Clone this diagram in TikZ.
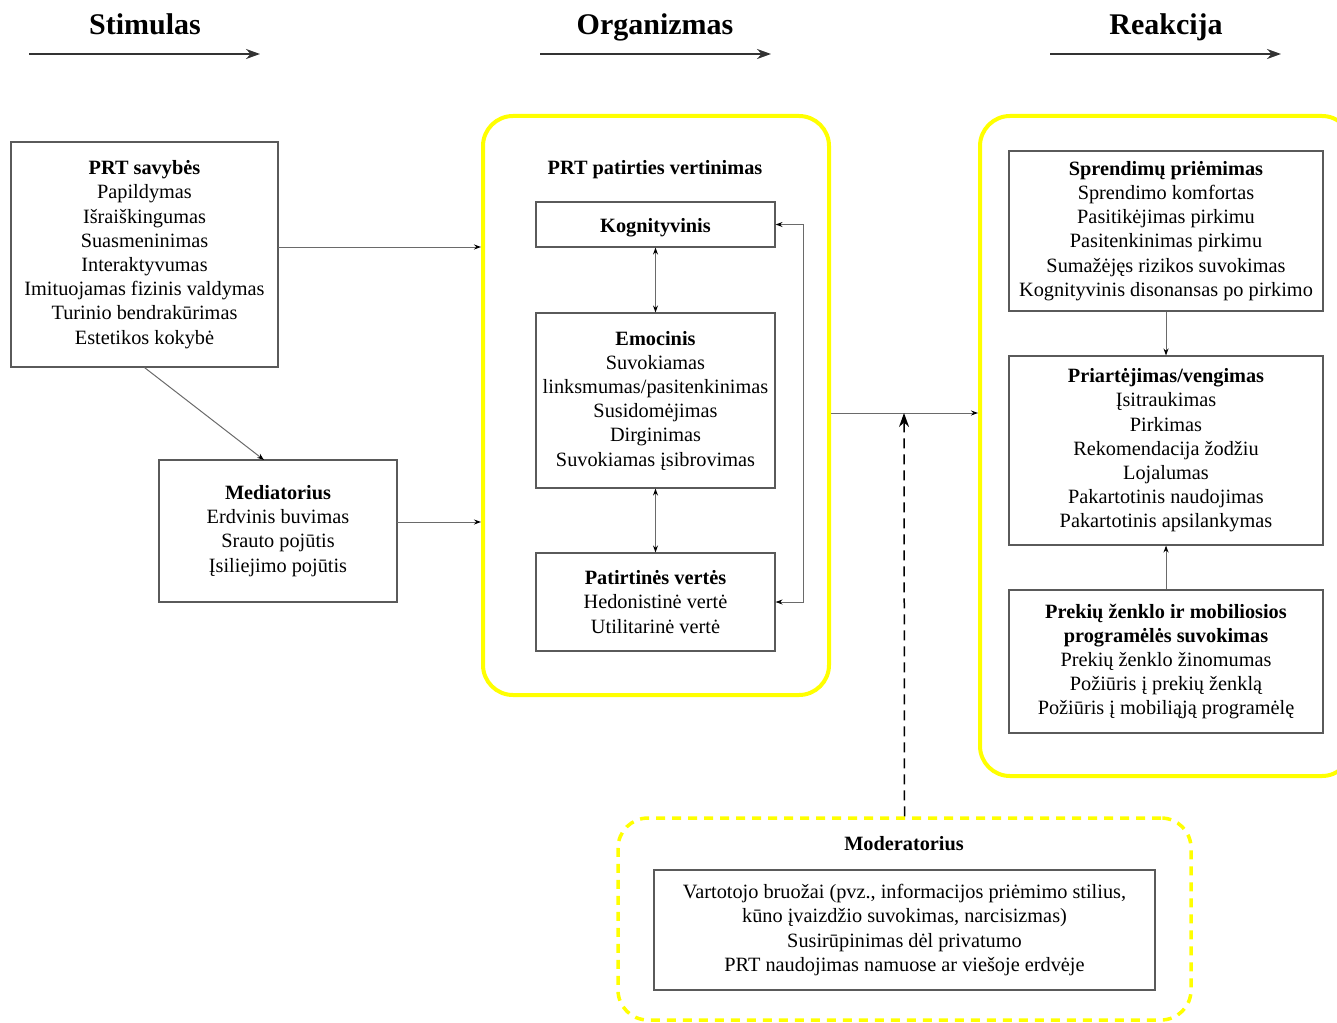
\documentclass[tikz,border=0pt]{standalone}
\usepackage{fontspec}
\setmainfont{Liberation Serif}
\usetikzlibrary{arrows.meta}
\definecolor{boxgray}{HTML}{5A5A5A}
\definecolor{linegray}{HTML}{6A6A6A}
\definecolor{hiyellow}{HTML}{FFFF00}
\begin{document}
\begin{tikzpicture}[x=1pt,y=-1pt,
  body/.style={font=\fontsize{20.3}{24.2}\selectfont, align=center},
  itembox/.style={body, draw=boxgray, line width=1.1pt, inner sep=0pt, anchor=center},
  heading/.style={font=\fontsize{30}{34}\selectfont\bfseries, anchor=base},
  phase/.style={draw=black!80, line width=2pt, -{Stealth[length=14pt,width=10pt]}},
  link/.style={draw=linegray, line width=1pt, -{Stealth[length=7pt,width=5pt,black]}},
  twoway/.style={draw=linegray, line width=1pt, {Stealth[length=7pt,width=5pt,black]}-{Stealth[length=7pt,width=5pt,black]}},
  group/.style={draw=hiyellow, line width=4pt, rounded corners=30pt},
]
\useasboundingbox (0,0) rectangle (1337,1022);
\clip (0,0) rectangle (1337,1022);

% phase headings
\node[heading] (hS) at (145,35) {Stimulas};
\node[heading] (hO) at (655,35) {Organizmas};
\node[heading] (hR) at (1166,35) {Reakcija};
\coordinate (s1) at (29,54);   \coordinate (s2) at (260,54);
\coordinate (o1) at (540,54);  \coordinate (o2) at (771,54);
\coordinate (r1) at (1050,54); \coordinate (r2) at (1281,54);
\draw[phase] (s1) -- (s2);
\draw[phase] (o1) -- (o2);
\draw[phase] (r1) -- (r2);

% stimulus side
\node[itembox, minimum width=267pt, minimum height=225pt] (prt) at (144.5,254.5)
  {\textbf{PRT savybės}\\Papildymas\\Išraiškingumas\\Suasmeninimas\\Interaktyvumas\\Imituojamas fizinis valdymas\\Turinio bendrakūrimas\\Estetikos kokybė};
\node[itembox, minimum width=238pt, minimum height=142pt] (med) at (278,531)
  {\textbf{Mediatorius}\\Erdvinis buvimas\\Srauto pojūtis\\Įsiliejimo pojūtis};

% organism group
\node[group, minimum width=346pt, minimum height=579pt, inner sep=0pt] (org) at (656,405.5) {};
\node[body, font=\fontsize{20.3}{24.2}\selectfont\bfseries] (orgt) at (655,169.5) {PRT patirties vertinimas};
\node[itembox, minimum width=239pt, minimum height=45pt, text height=17pt, text depth=1.4pt] (kog) at (655.5,224.5) {\textbf{Kognityvinis}};
\node[itembox, minimum width=239pt, minimum height=175pt] (emo) at (655.5,400.5)
  {\textbf{Emocinis}\\Suvokiamas\\linksmumas/pasitenkinimas\\Susidomėjimas\\Dirginimas\\Suvokiamas įsibrovimas};
\node[itembox, minimum width=239pt, minimum height=98pt] (pat) at (655.5,602)
  {\textbf{Patirtinės vertės}\\Hedonistinė vertė\\Utilitarinė vertė};

% reaction group
\node[group, minimum width=372pt, minimum height=660pt, inner sep=0pt] (rea) at (1166,446) {};
\node[itembox, minimum width=314pt, minimum height=160pt] (spr) at (1166,231)
  {\textbf{Sprendimų priėmimas}\\Sprendimo komfortas\\Pasitikėjimas pirkimu\\Pasitenkinimas pirkimu\\Sumažėjęs rizikos suvokimas\\Kognityvinis disonansas po pirkimo};
\node[itembox, minimum width=314pt, minimum height=189pt] (pri) at (1166,450.5)
  {\textbf{Priartėjimas/vengimas}\\Įsitraukimas\\Pirkimas\\Rekomendacija žodžiu\\Lojalumas\\Pakartotinis naudojimas\\Pakartotinis apsilankymas};
\node[itembox, minimum width=314pt, minimum height=143pt] (prk) at (1166,661.5)
  {\textbf{Prekių ženklo ir mobiliosios}\\\textbf{programėlės suvokimas}\\Prekių ženklo žinomumas\\Požiūris į prekių ženklą\\Požiūris į mobiliąją programėlę};

% moderator group
\node[group, dashed, dash pattern=on 9pt off 7pt, line width=3.5pt, minimum width=573pt, minimum height=202pt, inner sep=0pt] (mod) at (904.5,919) {};
\node[body, font=\fontsize{20.3}{24.2}\selectfont\bfseries] (modt) at (904,844) {Moderatorius};
\node[itembox, minimum width=501pt, minimum height=120pt] (modb) at (904.5,930)
  {Vartotojo bruožai (pvz., informacijos priėmimo stilius,\\kūno įvaizdžio suvokimas, narcisizmas)\\Susirūpinimas dėl privatumo\\PRT naudojimas namuose ar viešoje erdvėje};

% connectors
\coordinate (medtop) at (264,460);
\coordinate (prtout) at (278,247);
\coordinate (medout) at (397,522);
\draw[link] (prt.south) -- (medtop);
\draw[link] (prtout) -- (org.west |- prtout);
\draw[link] (medout) -- (org.west |- medout);
\draw[twoway] (kog.south) -- (emo.north);
\draw[twoway] (emo.south) -- (pat.north);
\coordinate (loop1) at (803,224.5);
\coordinate (loop2) at (803,602);
\draw[twoway] (kog.east) -- (loop1) -- (loop2) -- (pat.east);
\coordinate (modhit) at (904,413);
\draw[link] (org.east |- modhit) -- (rea.west |- modhit);
\draw[draw=black, line width=1.5pt, dash pattern=on 10pt off 6pt, -{Stealth[length=14pt,width=10pt]}] (mod.north) -- (modhit);
\draw[link] (spr.south) -- (pri.north);
\draw[link] (prk.north) -- (pri.south);
\end{tikzpicture}
\end{document}
